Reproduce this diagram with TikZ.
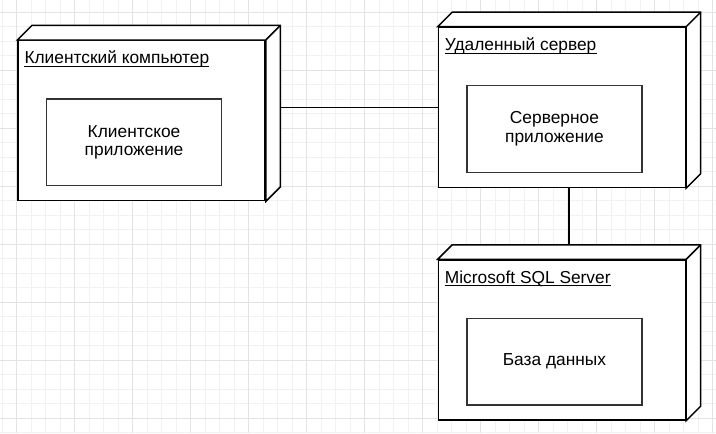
\documentclass[tikz,border=0pt]{standalone}
\usepackage{fontspec}
\setmainfont{Liberation Sans}
\usetikzlibrary{calc,positioning}
\definecolor{GridMajor}{HTML}{E3E3E3}
\definecolor{GridMinor}{HTML}{F2F2F2}
\definecolor{BoxLine}{HTML}{000000}
\definecolor{PartLine}{HTML}{333333}
\tikzset{
  gridminor/.style={draw=GridMinor,line width=0.75pt},
  gridmajor/.style={draw=GridMajor,line width=0.75pt},
  devnode/.style={draw=BoxLine,line width=1.1pt,fill=white,anchor=north west,minimum width=185.25pt,minimum height=120pt,inner sep=0pt},
  depthface/.style={draw=BoxLine,line width=1.1pt,fill=white},
  part/.style={draw=PartLine,line width=1.1pt,fill=white,anchor=north west,minimum width=131pt,minimum height=65pt,align=center,font=\fontsize{13}{14}\selectfont},
  nodetitle/.style={anchor=base west,inner sep=0pt,font=\fontsize{13}{14}\selectfont},
  titlerule/.style={draw=black,line width=0.75pt},
  link/.style={draw=black,line width=1.1pt}
}
\newcommand{\nodedepth}[1]{%
  \draw[depthface] (#1.north west) -- ++(10.9pt,10.9pt) -| ([shift={(10.9pt,10.9pt)}]#1.south east)
    -- (#1.south east) -- (#1.north east) -- cycle;
  \draw[depthface] (#1.north east) -- ++(10.9pt,10.9pt);}
\newcommand{\titleline}[1]{%
  \draw[titlerule] ([yshift=-2pt]#1.base west) -- ([yshift=-2pt]#1.base east);}

\begin{document}
\begin{tikzpicture}[x=0.75pt,y=-0.75pt]
  \useasboundingbox (0,0) rectangle (716,433);
  \foreach \i in {0,...,49} \draw[gridminor] ({2.2+14.5*\i},0) -- ({2.2+14.5*\i},433);
  \foreach \j in {0,...,29} \draw[gridminor] (0,{12.3+14.5*\j}) -- (716,{12.3+14.5*\j});
  \foreach \i in {0,...,12} \draw[gridmajor] ({16.7+58*\i},0) -- ({16.7+58*\i},433);
  \foreach \j in {0,...,7} \draw[gridmajor] (0,{12.3+58*\j}) -- (716,{12.3+58*\j});

  \node[devnode] (client) at (17.3,40) {};
  \nodedepth{client}
  \node[devnode] (server) at (437.7,26.7) {};
  \nodedepth{server}
  \node[devnode] (db) at (437.7,259.3) {};
  \nodedepth{db}

  \node[nodetitle] (clienttitle) at ([shift={(5.2pt,-17.8pt)}]client.north west) {Клиентский компьютер};
  \titleline{clienttitle}
  \node[nodetitle] (servertitle) at ([shift={(5.2pt,-17.8pt)}]server.north west) {Удаленный сервер};
  \titleline{servertitle}
  \node[nodetitle] (dbtitle) at ([shift={(5.2pt,-17.8pt)}]db.north west) {Microsoft SQL Server};
  \titleline{dbtitle}

  \node[part] (clientapp) at ([shift={(21.5pt,-43.7pt)}]client.north west) {Клиентское\\приложение};
  \node[part] (serverapp) at ([shift={(21.5pt,-43.7pt)}]server.north west) {Серверное\\приложение};
  \node[part] (database) at ([shift={(21.5pt,-43.7pt)}]db.north west) {База данных};

  \draw[link] ([xshift=10.9pt]client.east |- server.west) -- (server.west);
  \draw[link] ([xshift=5.45pt]server.south) -- ([shift={(5.45pt,10.9pt)}]db.north);
\end{tikzpicture}
\end{document}
